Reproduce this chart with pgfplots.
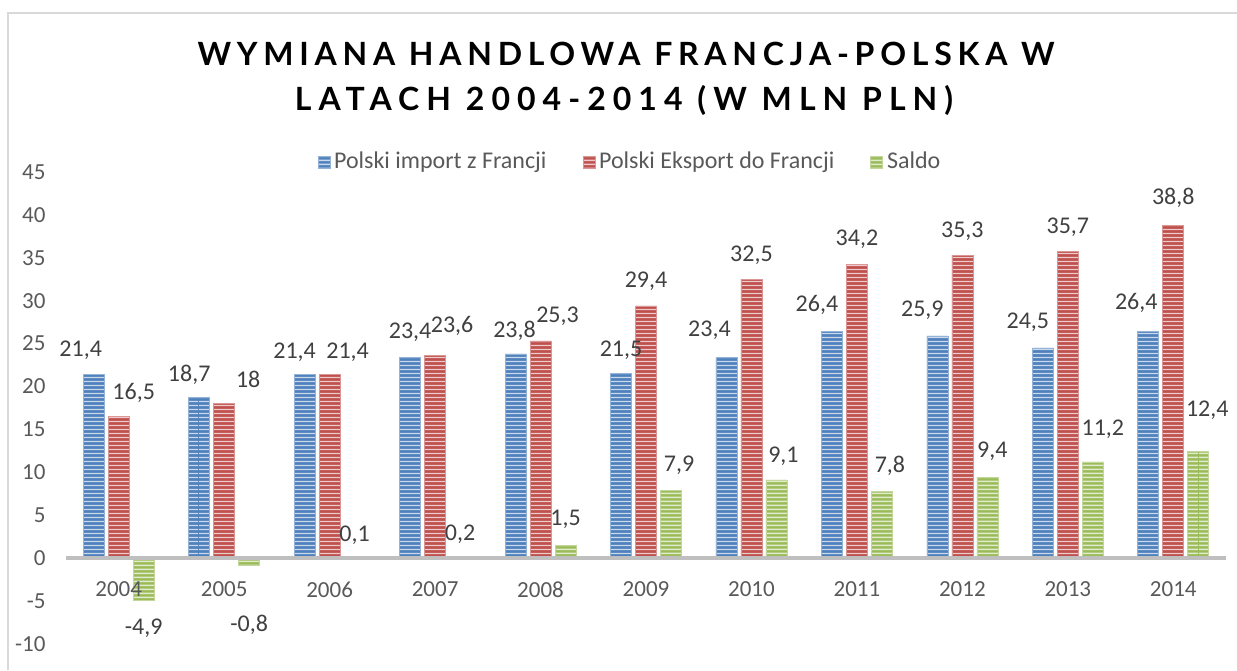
\documentclass[border=0pt]{standalone}
\usepackage{pgfplots}
\pgfplotsset{compat=1.18}
\usepackage{fontspec}
\setmainfont{Carlito}
\newfontfamily\titlefont[LetterSpace=18]{Lato}
\newfontfamily\titlefontb[LetterSpace=22]{Lato}
\usetikzlibrary{patterns}
\pgfdeclarepatternformonly{hstripes}{\pgfpointorigin}{\pgfpoint{100pt}{2pt}}{\pgfpoint{100pt}{2pt}}{%
  \pgfpathrectangle{\pgfpoint{0pt}{0.5pt}}{\pgfpoint{100pt}{0.9pt}}%
  \pgfusepath{fill}}
\definecolor{cB}{HTML}{4F81BD}
\definecolor{cR}{HTML}{C0504D}
\definecolor{cG}{HTML}{9BBB59}
\definecolor{txt}{HTML}{595959}
\definecolor{lbl}{HTML}{404040}
\definecolor{axgray}{HTML}{BFBFBF}
\definecolor{bordergray}{HTML}{D9D9D9}

\pgfplotstableread{
x y lab dx dy
0 21.4 21,4 -13 24
1 18.7 18,7 -10 23
2 21.4 21,4 -10 22
3 23.4 23,4 0 25
4 23.8 23,8 -1 23
5 21.5 21,5 0 23
6 23.4 23,4 -17 27
7 26.4 26,4 -15 27
8 25.9 25,9 -15 26
9 24.5 24,5 -15 26
10 26.4 26,4 -12 29
}\importtab
\pgfplotstableread{
x y lab dx dy
0 16.5 16,5 15 24
1 18 18 24 24
2 21.4 21,4 18 22
3 23.6 23,6 17 30
4 25.3 25,3 17 25
5 29.4 29,4 0 25
6 32.5 32,5 0 24
7 34.2 34,2 0 25
8 35.3 35,3 0 24
9 35.7 35,7 0 25
10 38.8 38,8 0 27
}\exporttab
\pgfplotstableread{
x y lab dx dy
0 -4.9 -4,9 0 -28
1 -0.8 -0,8 0 -60
2 0.1 0,1 0 22
3 0.2 0,2 0 22
4 1.5 1,5 0 26
5 7.9 7,9 8 25
6 9.1 9,1 7 24
7 7.8 7,8 8 25
8 9.4 9,4 5 26
9 11.2 11,2 10 33
10 12.4 12,4 9 41
}\saldotab

\begin{document}
\begin{tikzpicture}
\path[use as bounding box] (0,0) rectangle (618.5pt,335pt);
\draw[bordergray, line width=0.8pt] (4pt,0) -- (4pt,328.5pt) -- (618.5pt,328.5pt);
\node[anchor=base, inner sep=0pt] at (313pt,302pt) {\titlefont\bfseries\fontsize{16}{19}\selectfont WYMIANA HANDLOWA FRANCJA-POLSKA W};
\node[anchor=base, inner sep=0pt] at (312pt,279.5pt) {\titlefontb\bfseries\fontsize{16}{19}\selectfont LATACH 2004-2014 (W MLN PLN)};
\begin{axis}[
  at={(33pt,13.1pt)}, anchor=south west,
  scale only axis, width=580pt, height=235.9pt,
  xmin=-0.5, xmax=10.5, ymin=-10, ymax=45,
  ybar=2pt, bar width=10.5pt,
  clip=false, axis on top,
  axis line style={draw=none},
  tick style={draw=none},
  xtick={0,1,2,3,4,5,6,7,8,9,10},
  xticklabels={2004,2005,2006,2007,2008,2009,2010,2011,2012,2013,2014},
  ytick={-10,-5,0,5,10,15,20,25,30,35,40,45},
  extra y ticks={0}, extra y tick labels={},
  extra y tick style={grid=major, major grid style={draw=axgray, line width=2pt}},
  /pgf/number format/assume math mode=true,
  ticklabel style={font=\fontsize{11.5}{13}\selectfont, text=txt},
  xticklabel style={yshift=38.7pt},
  yticklabel style={xshift=-6.7pt},
  legend style={at={(0.487,1.021)}, anchor=center, draw=none, fill=none,
    legend columns=3, font=\fontsize{12}{14}\selectfont, text=txt,
    /tikz/every even column/.append style={column sep=16pt}},
  legend image code/.code={\fill[#1] (0pt,-3pt) rectangle (6pt,3pt);},
  nodes near coords={\pgfplotspointmeta},
  point meta=explicit symbolic,
  visualization depends on={\thisrow{dx} \as \dx},
  visualization depends on={\thisrow{dy} \as \dy},
  nodes near coords style={anchor=center, font=\fontsize{12}{14}\selectfont, text=lbl, inner sep=0pt,
    xshift=\dx*0.5pt, yshift=\dy*0.5pt},
]
\addplot[fill=cB, draw=cB!60!white, line width=0.3pt,
  postaction={pattern=hstripes, pattern color=cB!30!white}]
  table[x=x, y=y, meta=lab] {\importtab};
\addplot[fill=cR, draw=cR!60!white, line width=0.3pt,
  postaction={pattern=hstripes, pattern color=cR!30!white}]
  table[x=x, y=y, meta=lab] {\exporttab};
\addplot[fill=cG, draw=cG!60!white, line width=0.3pt,
  postaction={pattern=hstripes, pattern color=cG!30!white}]
  table[x=x, y=y, meta=lab] {\saldotab};
\legend{Polski import z Francji, Polski Eksport do Francji, Saldo}
\end{axis}
\end{tikzpicture}
\end{document}
